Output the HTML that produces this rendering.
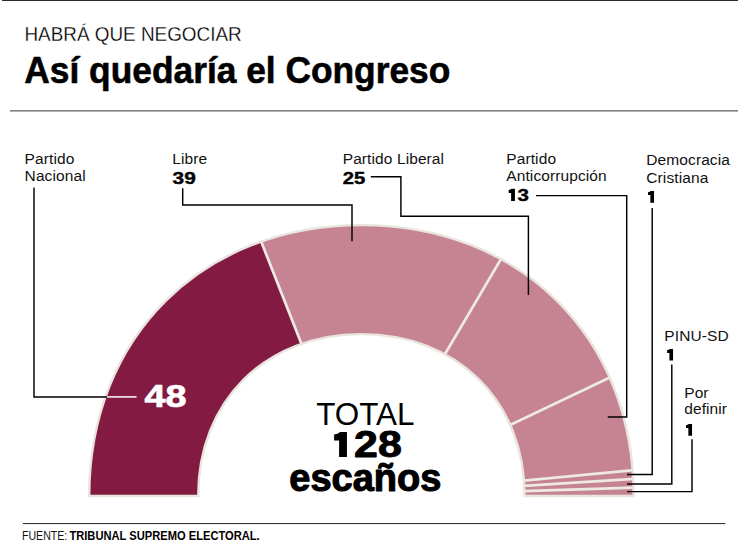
<!DOCTYPE html>
<html><head><meta charset="utf-8"><style>
html,body{margin:0;padding:0;background:#fff;width:738px;height:543px;overflow:hidden}
svg{display:block}
text{font-family:"Liberation Sans",sans-serif}
</style></head><body>
<svg width="738" height="543" viewBox="0 0 738 543">
<defs><clipPath id="dc"><path d="M89.20,496.00 C89.20,336.17 203.25,225.10 361.40,225.10 C519.55,225.10 633.60,336.17 633.60,496.00 L524.60,496.00 C524.60,400.80 457.36,334.10 361.40,334.10 C265.44,334.10 198.20,400.80 198.20,496.00 Z"/></clipPath></defs>
<rect x="2" y="0" width="736" height="1" fill="#2a2a2a"/>
<text transform="translate(24.4,40.7) scale(0.922,1)" font-size="20.5" fill="#000" stroke="#fff" stroke-width="0.25">HABRÁ QUE NEGOCIAR</text>
<text transform="translate(24.3,82.6) scale(0.935,1)" font-size="37.8" font-weight="bold" fill="#000" stroke="#000" stroke-width="0.6" stroke-linejoin="round">Así quedaría el Congreso</text>
<rect x="10" y="110" width="728" height="1.6" fill="#808080"/>
<g clip-path="url(#dc)">
<path d="M89.20,496.00 C89.20,336.17 203.25,225.10 361.40,225.10 C519.55,225.10 633.60,336.17 633.60,496.00 L524.60,496.00 C524.60,400.80 457.36,334.10 361.40,334.10 C265.44,334.10 198.20,400.80 198.20,496.00 Z" fill="#c58393"/>
<path d="M361.40,496.00 L-38.60,496.00 L-38.60,96.00 L214.80,123.83 Z" fill="#821a41"/>
<g stroke="#eceae3" stroke-width="2.75"><line x1="361.40" y1="496.00" x2="214.80" y2="123.83"/><line x1="361.40" y1="496.00" x2="564.42" y2="151.35"/><line x1="361.40" y1="496.00" x2="722.43" y2="323.80"/><line x1="361.40" y1="496.00" x2="759.62" y2="458.36"/><line x1="361.40" y1="496.00" x2="760.61" y2="470.88"/><line x1="361.40" y1="496.00" x2="761.21" y2="483.78"/></g>
</g>
<path d="M89.20,496.00 C89.20,336.17 203.25,225.10 361.40,225.10 C519.55,225.10 633.60,336.17 633.60,496.00 L524.60,496.00 C524.60,400.80 457.36,334.10 361.40,334.10 C265.44,334.10 198.20,400.80 198.20,496.00 Z" fill="none" stroke="#e9e5dd" stroke-width="2.4"/>
<g fill="none" stroke="#000" stroke-width="1.45">
<polyline points="34.0,187.5 34.0,396.9 107,396.9"/>
<polyline points="182.7,188.3 182.7,205 352,205 352,241.3"/>
<polyline points="370.8,176.7 400.9,176.7 400.9,216.2 528.4,216.2 528.4,294.9"/>
<polyline points="536,195.6 626.7,195.6 626.7,416.9 607.7,416.9"/>
<polyline points="652.2,208 652.2,474.5 627,474.5"/>
<polyline points="671.8,364.4 671.8,483.9 627,483.9"/>
<polyline points="692,439.3 692,491.6 627,491.6"/>
</g>
<line x1="107" y1="396.9" x2="136.6" y2="396.9" stroke="#fff" stroke-width="1.5"/>
<g font-size="15.5" fill="#111" letter-spacing="0.1">
<text x="24.6" y="163.7">Partido</text><text x="24.6" y="180.6">Nacional</text>
<text x="172.3" y="163.7">Libre</text>
<text x="342.7" y="164.1">Partido Liberal</text>
<text x="506.3" y="163.7">Partido</text><text x="506.3" y="180.8">Anticorrupción</text>
<text x="646.3" y="165">Democracia</text><text x="646.3" y="182.7">Cristiana</text>
<text x="664.3" y="340.9">PINU-SD</text>
<text x="684.2" y="398">Por</text><text x="684.2" y="414.1">definir</text>
</g>
<text transform="translate(172.6,183.9) scale(1.28,1)" font-weight="bold" font-size="16.3" fill="#000" text-anchor="start" stroke="#000" stroke-width="0.4" stroke-linejoin="round">39</text>
<text transform="translate(342.7,183.9) scale(1.24,1)" font-weight="bold" font-size="16.3" fill="#000" text-anchor="start" stroke="#000" stroke-width="0.4" stroke-linejoin="round">25</text>
<path fill="#000" d="M511.59,188.80 L514.94,188.80 L514.94,201.00 L511.10,201.00 L511.10,193.01 L508.66,193.01 L508.66,190.02 Q510.49,189.90 511.59,188.80 Z"/>
<text transform="translate(517.6,200.7) scale(1.26,1)" font-weight="bold" font-size="16.3" fill="#000" text-anchor="start" stroke="#000" stroke-width="0.4" stroke-linejoin="round">3</text>
<path fill="#000" d="M650.82,191.00 L654.04,191.00 L654.04,202.70 L650.35,202.70 L650.35,195.04 L648.01,195.04 L648.01,192.17 Q649.76,192.05 650.82,191.00 Z"/>
<path fill="#000" d="M669.89,349.10 L673.05,349.10 L673.05,360.60 L669.43,360.60 L669.43,353.07 L667.13,353.07 L667.13,350.25 Q668.85,350.14 669.89,349.10 Z"/>
<path fill="#000" d="M688.82,424.00 L692.04,424.00 L692.04,435.70 L688.35,435.70 L688.35,428.04 L686.01,428.04 L686.01,425.17 Q687.76,425.05 688.82,424.00 Z"/>
<text transform="translate(144.5,406.9) scale(1.22,1)" font-weight="bold" font-size="31" fill="#fff" text-anchor="start" stroke="#fff" stroke-width="0.7" stroke-linejoin="round">48</text>
<text transform="translate(316.2,425.2) scale(0.982,1)" font-size="32" fill="#000">TOTAL</text>
<path fill="#000" d="M340.10,432.00 L346.94,432.00 L346.94,456.90 L339.10,456.90 L339.10,440.59 L334.12,440.59 L334.12,434.49 Q337.86,434.24 340.10,432.00 Z"/>
<text transform="translate(354.1,457) scale(1.19,1)" font-weight="bold" font-size="36" fill="#000" text-anchor="start" stroke="#000" stroke-width="0.9" stroke-linejoin="round">28</text>
<text transform="translate(289.3,490.8) scale(1.0,1)" font-size="38" font-weight="bold" fill="#000" stroke="#000" stroke-width="1.1" stroke-linejoin="round">escaños</text>
<rect x="22.8" y="523" width="702.6" height="1.1" fill="#363636"/>
<text transform="translate(22.0,539.9) scale(0.855,1)" font-size="12.4" fill="#111">FUENTE:</text>
<text transform="translate(69.4,539.9) scale(0.9,1)" font-size="12.4" font-weight="bold" fill="#000">TRIBUNAL SUPREMO ELECTORAL.</text>
</svg>
</body></html>
